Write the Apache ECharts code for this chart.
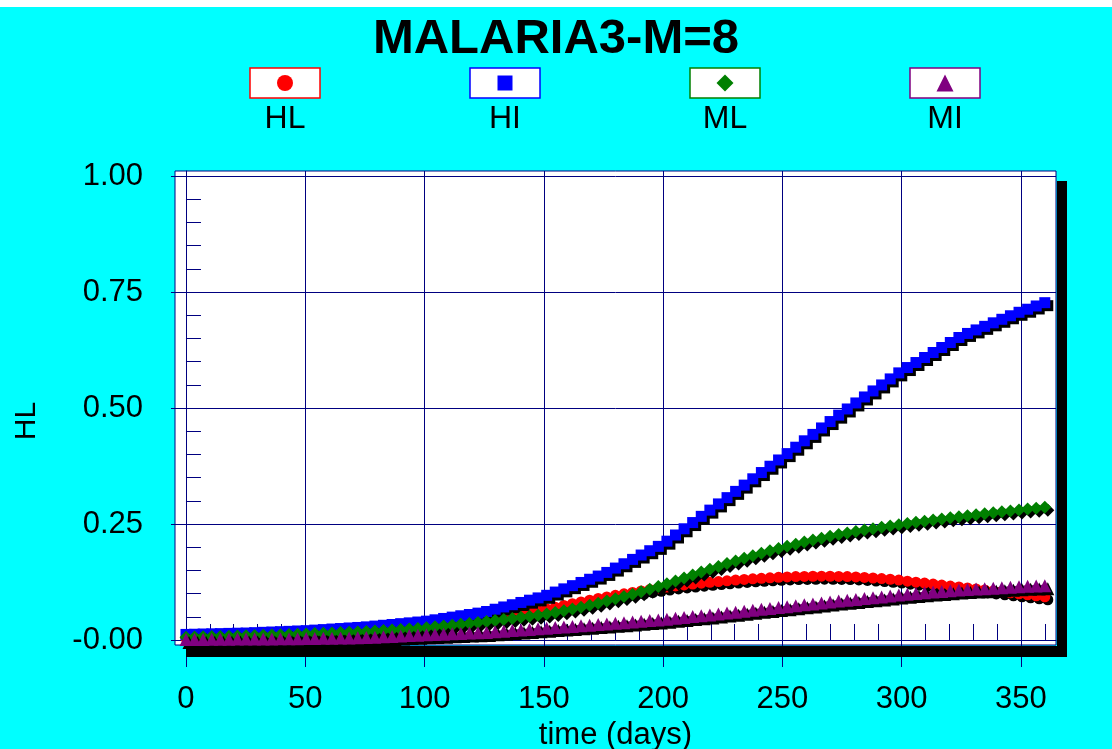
<!DOCTYPE html>
<html><head><meta charset="utf-8">
<script src="https://cdn.jsdelivr.net/npm/echarts@6/dist/echarts.min.js"></script>
<style>html,body{margin:0;padding:0;background:#00FFFF;}#c{width:1112px;height:749px;}</style>
</head><body><div id="c"></div>
<script>
// ---------------- data ----------------
const titleText = 'MALARIA3-M=8';
const xName = 'time (days)';
const yName = 'HL';
const seriesNames = ['HL', 'HI', 'ML', 'MI'];

const days = [
0,3.6,7.2,10.8,14.4,18,21.6,25.2,28.8,32.4,
36,39.6,43.2,46.8,50.4,54,57.6,61.2,64.8,68.4,
72,75.6,79.2,82.8,86.4,90,93.6,97.2,100.8,104.4,
108,111.6,115.2,118.8,122.4,126,129.6,133.2,136.8,140.4,
144,147.6,151.2,154.8,158.4,162,165.6,169.2,172.8,176.4,
180,183.6,187.2,190.8,194.4,198,201.6,205.2,208.8,212.4,
216,219.6,223.2,226.8,230.4,234,237.6,241.2,244.8,248.4,
252,255.6,259.2,262.8,266.4,270,273.6,277.2,280.8,284.4,
288,291.6,295.2,298.8,302.4,306,309.6,313.2,316.8,320.4,
324,327.6,331.2,334.8,338.4,342,345.6,349.2,352.8,356.4,
360];

const HL = [
.004,.0043,.0046,.0049,.0052,.0054,.0057,.006,.0066,.0072,
.0077,.0083,.0089,.0095,.0101,.0109,.0118,.0127,.0136,.0144,
.0153,.0163,.018,.0197,.0215,.0232,.0249,.0266,.0285,.031,
.0334,.0359,.0383,.0408,.0432,.0458,.0489,.0519,.0549,.0579,
.0609,.064,.067,.0707,.0745,.0782,.082,.0857,.0895,.0929,
.0962,.0994,.1025,.1056,.1086,.1114,.114,.1164,.1186,.1206,
.1225,.1243,.126,.1276,.1291,.1305,.1318,.133,.1341,.1351,
.1359,.1366,.1371,.1374,.1375,.1374,.1371,.1366,.1358,.1348,
.1336,.1323,.1309,.1292,.1268,.1247,.1226,.1205,.1184,.1163,
.1142,.1121,.11,.1079,.1058,.1037,.1016,.0995,.0974,.0953,
.0932];

const HI = [
.012,.0124,.0129,.0133,.0137,.0142,.0146,.015,.0158,.0165,
.0172,.0179,.0186,.0194,.0201,.0213,.0224,.0236,.0247,.0259,
.027,.0283,.03,.0317,.0334,.0352,.0369,.0387,.0406,.0435,
.0464,.0493,.0522,.055,.0579,.0614,.0663,.0712,.076,.0809,
.0858,.0907,.0963,.1033,.1102,.1171,.124,.1309,.1378,.1456,
.155,.1643,.1737,.1831,.1924,.2018,.213,.2263,.2397,.2531,
.2665,.2799,.2933,.3068,.3203,.3338,.3474,.3609,.3745,.388,
.4017,.4155,.4293,.4431,.457,.4708,.4846,.4979,.5109,.5238,
.5368,.5497,.5627,.5757,.5872,.598,.6088,.6196,.6304,.6412,
.652,.6607,.6683,.676,.6836,.6912,.6988,.7063,.7129,.7199,
.727];

const ML = [
.006,.0064,.0069,.0073,.0077,.0082,.0086,.009,.0096,.0102,
.0107,.0113,.0119,.0125,.0131,.0138,.0145,.0152,.016,.0167,
.0174,.0181,.0193,.0204,.0216,.0227,.0239,.025,.0264,.0283,
.0302,.032,.0339,.0358,.0376,.0396,.0419,.0442,.0465,.0488,
.0511,.0535,.0562,.0594,.063,.0668,.0708,.075,.0794,.084,
.0888,.0935,.0985,.1038,.1094,.1152,.1212,.1274,.1337,.14,
.1463,.1525,.1586,.1646,.1705,.1762,.1817,.187,.1921,.197,
.2019,.2066,.2111,.2154,.2195,.2234,.2271,.2306,.2339,.237,
.24,.2429,.2457,.2484,.251,.2536,.2561,.2585,.2609,.2632,
.2655,.2677,.2699,.272,.2741,.2762,.2782,.2802,.2822,.2842,
.2862];

const MI = [
.001,.0011,.0013,.0014,.0016,.0017,.0019,.002,.0021,.0023,
.0024,.0026,.0027,.0029,.003,.0033,.0036,.0039,.0042,.0045,
.0048,.0051,.006,.0069,.0077,.0086,.0095,.0103,.0112,.0119,
.0126,.0133,.014,.0148,.0155,.0163,.0176,.0189,.0202,.0215,
.0228,.0241,.0254,.0267,.028,.0293,.0306,.0319,.0332,.0346,
.036,.0374,.0389,.0403,.0418,.0432,.0448,.0466,.0485,.0504,
.0523,.0541,.056,.058,.06,.062,.064,.066,.0681,.0701,
.0717,.0737,.0757,.0778,.0798,.0818,.0838,.0854,.0873,.0892,
.0911,.0929,.0948,.0967,.0985,.1001,.1017,.1032,.1046,.1061,
.1075,.1087,.1097,.1107,.1117,.1127,.1137,.1147,.1156,.1163,
.117];

const xTicks = [0, 50, 100, 150, 200, 250, 300, 350];
const xMinorTicks = [0,10,20,30,40,50,60,70,80,90,100,110,120,130,140,150,160,170,180,190,200,210,220,230,240,250,260,270,280,290,300,310,320,330,340,350,360];
const yTicks = [0, 0.25, 0.5, 0.75, 1];
const yTickLabels = ['-0.00', '0.25', '0.50', '0.75', '1.00'];
const yMinorTicks = [0.05,0.1,0.15,0.2,0.3,0.35,0.4,0.45,0.55,0.6,0.65,0.7,0.8,0.85,0.9,0.95];

// ---------------- styles ----------------
const FONT = '"Liberation Sans", Arial, sans-serif';
const NAVY = '#000080';
const styles = [
  {color: '#FF0000', symbol: 'circle',   size: 11, legendSize: 16},
  {color: '#0000FF', symbol: 'rect',     size: 11, legendSize: 15},
  {color: '#008000', symbol: 'diamond',  size: 13, legendSize: 17},
  {color: '#800080', symbol: 'triangle', size: 13, legendSize: 17}
];
const seriesValues = [HL, HI, ML, MI];

const series = seriesNames.map((name, k) => ({
  type: 'line',
  name: name,
  data: days.map((d, i) => [d, seriesValues[k][i]]),
  xAxisIndex: 0, yAxisIndex: 0,
  symbol: styles[k].symbol,
  symbolSize: styles[k].size,
  showSymbol: true, showAllSymbol: true,
  clip: false,
  lineStyle: {color: styles[k].color, width: 2, shadowColor: '#000', shadowOffsetX: 3, shadowOffsetY: 3, shadowBlur: 0},
  itemStyle: {color: styles[k].color, shadowColor: '#000', shadowOffsetX: 3, shadowOffsetY: 3, shadowBlur: 0},
  emphasis: {disabled: true},
  animation: false
}));

// legend drawn as graphic elements
const legendEls = [];
seriesNames.forEach((name, k) => {
  const cx = 285 + 220 * k, cy = 83;
  legendEls.push({type: 'rect', z: 100, shape: {x: cx - 35, y: 68, width: 70, height: 30},
    style: {fill: '#fff', stroke: styles[k].color, lineWidth: 1.5}});
  const s = styles[k].legendSize;
  let m;
  if (k === 0) m = {type: 'circle', shape: {cx: cx, cy: cy, r: s / 2}};
  else if (k === 1) m = {type: 'rect', shape: {x: cx - s / 2, y: cy - s / 2, width: s, height: s}};
  else if (k === 2) m = {type: 'polygon', shape: {points: [[cx, cy - s / 2], [cx + s / 2, cy], [cx, cy + s / 2], [cx - s / 2, cy]]}};
  else m = {type: 'polygon', shape: {points: [[cx, cy - s / 2], [cx + s / 2, cy + s / 2], [cx - s / 2, cy + s / 2]]}};
  m.z = 101; m.style = {fill: styles[k].color};
  legendEls.push(m);
  legendEls.push({type: 'text', z: 101, style: {text: name, x: cx, y: 119, align: 'center', verticalAlign: 'middle',
    font: '32px ' + FONT, fill: '#000'}});
});

const option = {
  backgroundColor: '#00FFFF',
  animation: false,
  title: {
    text: titleText, left: 'center', top: 10,
    textStyle: {fontSize: 49, fontWeight: 'bold', color: '#000', fontFamily: FONT}
  },
  grid: {left: 175, right: 56, top: 171, bottom: 104, show: true, backgroundColor: '#fff',
    borderColor: NAVY, borderWidth: 1, containLabel: false, outerBoundsMode: 'none'},
  xAxis: [
    {type: 'value', min: -4.6, max: 364.7, position: 'bottom',
      axisLine: {show: true, lineStyle: {color: NAVY, width: 1}},
      axisTick: {show: true, inside: false, length: 27, customValues: xTicks, lineStyle: {color: NAVY, width: 1}},
      axisLabel: {show: true, customValues: xTicks, margin: 39, fontSize: 31, color: '#000', fontFamily: FONT},
      splitLine: {show: true, lineStyle: {color: NAVY, width: 1}},
      name: xName, nameLocation: 'middle', nameGap: 74,
      nameTextStyle: {fontSize: 31, color: '#000', fontFamily: FONT}},
    {type: 'value', min: -4.6, max: 364.7, position: 'bottom',
      axisLine: {show: false},
      axisTick: {show: true, inside: true, length: 16, customValues: xMinorTicks, lineStyle: {color: NAVY, width: 1}},
      axisLabel: {show: false}, splitLine: {show: false}}
  ],
  yAxis: [
    {type: 'value', min: -0.0108, max: 1.0108, position: 'left',
      axisLine: {show: true, lineStyle: {color: NAVY, width: 1}},
      axisTick: {show: true, inside: false, length: 15, customValues: yTicks, lineStyle: {color: NAVY, width: 1}},
      axisLabel: {show: true, customValues: yTicks, margin: 32, fontSize: 31, color: '#000', fontFamily: FONT,
        formatter: function (v) {
          const i = yTicks.findIndex(t => Math.abs(t - v) < 1e-9);
          return i >= 0 ? yTickLabels[i] : '';
        }},
      splitLine: {show: true, lineStyle: {color: NAVY, width: 1}}},
    {type: 'value', min: -0.0108, max: 1.0108, position: 'left',
      axisLine: {show: false},
      axisTick: {show: true, inside: true, length: 15, customValues: yMinorTicks, lineStyle: {color: NAVY, width: 1}},
      axisLabel: {show: false}, splitLine: {show: false}}
  ],
  series: series,
  graphic: [
    {type: 'rect', z: 100, shape: {x: 0, y: 0, width: 1112, height: 7}, style: {fill: '#fff'}},
    {type: 'rect', z: 100, shape: {x: 1057, y: 181, width: 10, height: 476}, style: {fill: '#000'}},
    {type: 'rect', z: 100, shape: {x: 186, y: 646, width: 881, height: 11}, style: {fill: '#000'}},
    {type: 'text', z: 101, x: 27, y: 421, rotation: Math.PI / 2,
      style: {text: yName, x: 0, y: 0, align: 'center', verticalAlign: 'middle', font: '30px ' + FONT, fill: '#000'}}
  ].concat(legendEls)
};

const chart = echarts.init(document.getElementById('c'));
chart.setOption(option);
</script>
</body></html>
